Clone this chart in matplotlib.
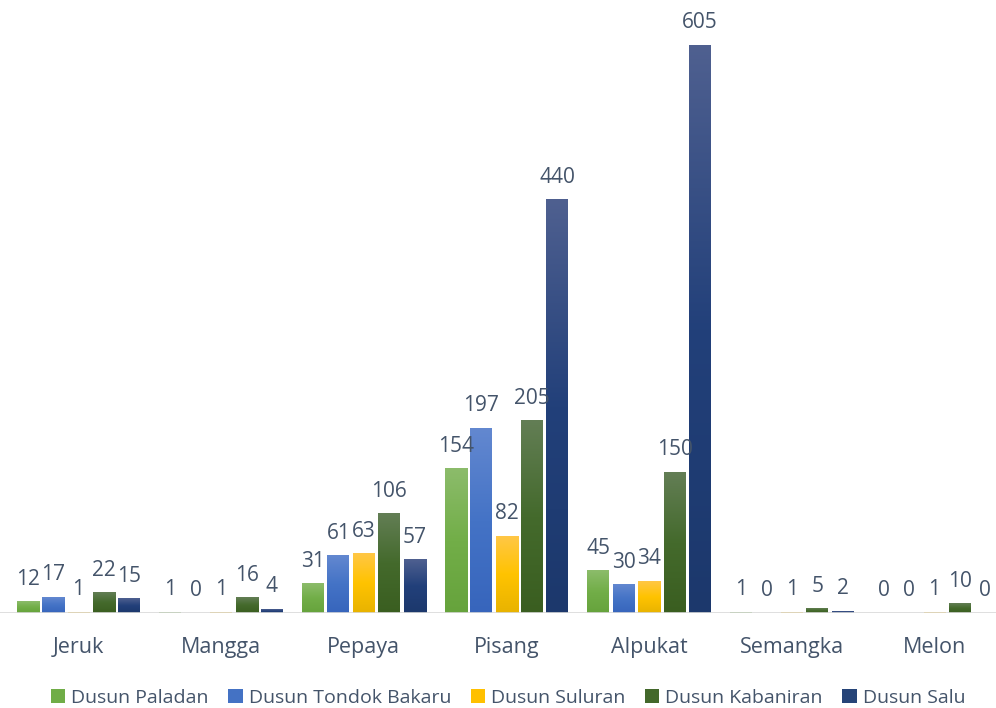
import matplotlib
matplotlib.use("Agg")
import matplotlib.pyplot as plt
import numpy as np
from matplotlib.colors import LinearSegmentedColormap

categories = ["Jeruk", "Mangga", "Pepaya", "Pisang", "Alpukat", "Semangka", "Melon"]
series_names = ["Dusun Paladan", "Dusun Tondok Bakaru", "Dusun Suluran", "Dusun Kabaniran", "Dusun Salu"]
paladan = [12, 1, 31, 154, 45, 1, 0]
tondok_bakaru = [17, 0, 61, 197, 30, 0, 0]
suluran = [1, 1, 63, 82, 34, 1, 1]
kabaniran = [22, 16, 106, 205, 150, 5, 10]
salu = [15, 4, 57, 440, 605, 2, 0]
series_values = [paladan, tondok_bakaru, suluran, kabaniran, salu]

base_colors = ["#70AD47", "#4472C4", "#FFC000", "#43682B", "#264478"]
grad_top = ["#8CBC6B", "#6388D0", "#FFC746", "#637E55", "#4F6090"]
grad_mid = ["#72AE48", "#4473C6", "#FFC300", "#446A2C", "#22407A"]
grad_bot = ["#66A33C", "#3765BC", "#E8B300", "#3A5E20", "#1C386C"]

text_color = "#44546A"
plt.rcParams['font.family'] = ["Open Sans", "DejaVu Sans"]

fig = plt.figure(figsize=(9.96, 7.08), dpi=100)
W, H = 996, 708
base_px = 613
px_per_unit = (613 - 45) / 605.0
ymax = 650
ax_h = ymax * px_per_unit
ax = fig.add_axes([0, (H - base_px) / H, 1, ax_h / H])

pitch_px = 142.67
first_center = 78.5
xl = -first_center / pitch_px
xr = (W - first_center) / pitch_px

x = np.arange(len(categories))
bw = 22 / pitch_px
step = 25.4 / pitch_px
label_fs = 15

for j, (name, vals) in enumerate(zip(series_names, series_values)):
    offs = x + (j - 2) * step
    bars = ax.bar(offs, vals, width=bw, color=base_colors[j], label=name, zorder=2)
    cmap = LinearSegmentedColormap.from_list(f"g{j}", [grad_bot[j], grad_mid[j], grad_top[j]])
    grad = np.linspace(0, 1, 256).reshape(-1, 1)
    for b, v in zip(bars, vals):
        bx, by = b.get_x(), b.get_y()
        bwid, bh = b.get_width(), b.get_height()
        if bh > 0:
            ax.imshow(grad, extent=[bx, bx + bwid, by, by + bh], origin="lower",
                      cmap=cmap, aspect="auto", zorder=3, interpolation="bicubic")
        ax.annotate(str(v), (bx + bwid / 2, bh), xytext=(0, 8.5), textcoords="offset points",
                    ha="center", va="bottom", fontsize=label_fs, color=text_color, zorder=5)

ax.set_xlim(xl, xr)
ax.set_ylim(0, ymax)
ax.axhline(0, color="#D9D9D9", lw=1.2, zorder=4)
for s in ax.spines.values():
    s.set_visible(False)
ax.set_yticks([])
ax.set_xticks(x)
ax.set_xticklabels(categories, fontsize=15.5, color=text_color)
ax.tick_params(axis="x", length=0, pad=17)

handles, labels = ax.get_legend_handles_labels()
leg = fig.legend(handles, labels, loc="center", bbox_to_anchor=(0.51, 1 - 698 / H), ncol=5,
                 frameon=False, fontsize=14, handlelength=0.75, handleheight=0.75,
                 handletextpad=0.3, columnspacing=1.0, labelcolor=text_color)

fig.savefig("out.png", dpi=100)
